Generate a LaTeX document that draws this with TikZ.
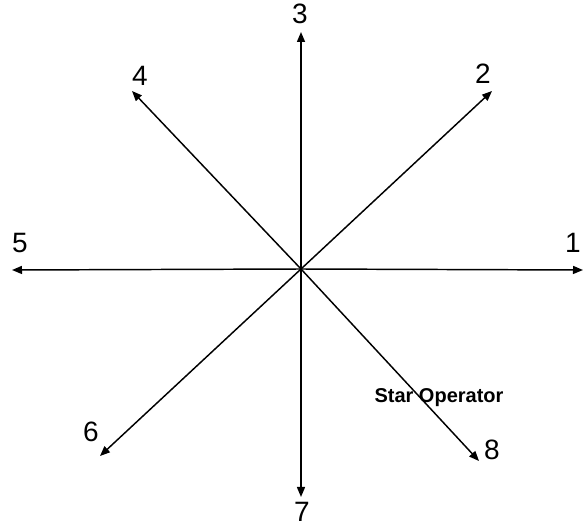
\documentclass[tikz,border=0pt]{standalone}
\usepackage{fontspec}
\setmainfont{Liberation Sans}
\usepackage{tikz}
\usetikzlibrary{arrows.meta}
\definecolor{starLine}{RGB}{0,0,0}
\tikzset{
  starray/.style={-{Triangle[length=7.5pt,width=6pt]}, draw=starLine, line width=1.1pt},
  dirlabel/.style={font=\fontsize{21}{24}\selectfont, inner sep=0pt, text=starLine},
  captionlabel/.style={font=\fontsize{15}{17}\selectfont\bfseries, inner sep=0pt, text=starLine},
}
\begin{document}
\begin{tikzpicture}[x=0.75pt,y=-0.75pt]
  \useasboundingbox (0,0) rectangle (587,528);

  \coordinate (o) at (301,269);

  % arrow ends
  \coordinate (t1) at (583,270);
  \coordinate (t2) at (492,91);
  \coordinate (t3) at (301,32);
  \coordinate (t4) at (132,91);
  \coordinate (t5) at (12,270);
  \coordinate (t6) at (100,456);
  \coordinate (t7) at (301,497);
  \coordinate (t8) at (479,461);

  \foreach \t in {t1,t2,t3,t4,t5,t6,t7,t8}
    \draw[starray] (o) -- (\t);

  % direction numbers
  \node[dirlabel] (l1) at (573,243) {1};
  \node[dirlabel] (l2) at (483,74) {2};
  \node[dirlabel] (l3) at (300,14) {3};
  \node[dirlabel] (l4) at (140,76) {4};
  \node[dirlabel] (l5) at (20,243) {5};
  \node[dirlabel] (l6) at (91,432) {6};
  \node[dirlabel] (l7) at (302,512) {7};
  \node[dirlabel] (l8) at (492,450) {8};

  \node[captionlabel] (cap) at (439,398) {Star Operator};
\end{tikzpicture}
\end{document}
